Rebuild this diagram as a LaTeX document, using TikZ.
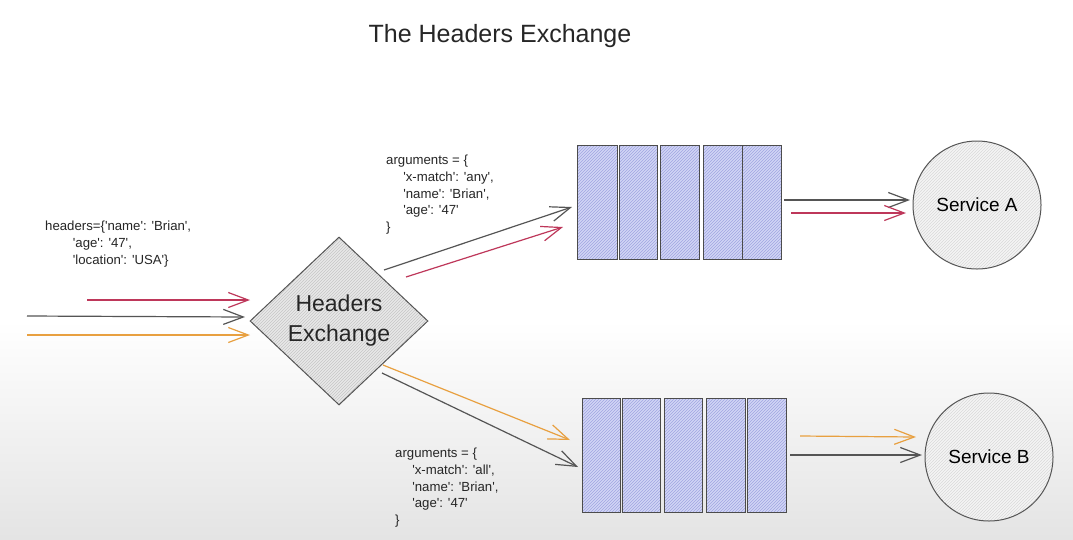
\documentclass[tikz,border=0pt]{standalone}
\usepackage{fontspec}
\setmainfont{Liberation Sans}
\usetikzlibrary{shapes.geometric,arrows.meta,patterns}
\newcommand{\sq}{\textquotesingle}
\definecolor{cred}{RGB}{190,55,90}
\definecolor{cgray}{RGB}{85,85,85}
\definecolor{corange}{RGB}{232,160,64}
\definecolor{qfill}{RGB}{210,213,245}
\definecolor{qline}{RGB}{160,165,225}
\definecolor{bggray}{RGB}{228,228,228}
\begin{document}
\begin{tikzpicture}[x=1pt,y=-1pt,
  arr/.style={line width=1.2pt,-{Straight Barb[length=20pt,width=15pt,line width=1.2pt]}},
  qbox/.style={draw=cgray!90!black,line width=1pt,preaction={fill=qfill},pattern=north east lines,pattern color=qline,minimum height=114pt,inner sep=0pt},
  code/.style={align=left,anchor=north west,font=\fontsize{13.2}{16.7}\selectfont,text=black!85,inner sep=0pt},
  svc/.style={circle,draw=cgray,line width=1pt,preaction={fill=gray!8},pattern=north east lines,pattern color=gray!30,minimum size=128pt,inner sep=0pt,font=\fontsize{19}{22}\selectfont}]
\useasboundingbox (0,0) rectangle (1073,539);
\fill[white] (0,0) rectangle (1073,320);
\shade[top color=white,bottom color=bggray] (0,320) rectangle (1073,539);

\node[font=\fontsize{25}{30}\selectfont,text=black!85] (title) at (500,36) {The Headers Exchange};

\node[code] (hdr) at (45,221) {headers=\{\sq name\sq: \sq Brian\sq,\\\hspace{2.1em}\sq age\sq: \sq 47\sq,\\\hspace{2.1em}\sq location\sq: \sq USA\sq\}};

\node[code] (argA) at (386,155) {arguments = \{\\\hspace{1.3em}\sq x-match\sq: \sq any\sq,\\\hspace{1.3em}\sq name\sq: \sq Brian\sq,\\\hspace{1.3em}\sq age\sq: \sq 47\sq\\\}};
\node[code] (argB) at (395,448) {arguments = \{\\\hspace{1.3em}\sq x-match\sq: \sq all\sq,\\\hspace{1.3em}\sq name\sq: \sq Brian\sq,\\\hspace{1.3em}\sq age\sq: \sq 47\sq\\\}};

\node[diamond,draw=cgray,line width=1pt,preaction={fill=gray!18},pattern=north east lines,pattern color=gray!45,minimum width=178pt,minimum height=168pt,inner sep=0pt] (ex) at (339,321) {};
\node[align=center,font=\fontsize{23}{30}\selectfont,text=black!85] (exlabel) at (ex.center) {Headers\\Exchange};

% upper queue
\node[qbox,minimum width=40pt] (qa1) at (597,202) {};
\node[qbox,minimum width=38pt] (qa2) at (638,202) {};
\node[qbox,minimum width=39pt] (qa3) at (679.5,202) {};
\node[qbox,minimum width=39pt] (qa4) at (722.5,202) {};
\node[qbox,minimum width=39pt] (qa5) at (761.5,202) {};
% lower queue
\node[qbox,minimum width=38pt] (qb1) at (601,455) {};
\node[qbox,minimum width=38pt] (qb2) at (641,455) {};
\node[qbox,minimum width=38pt] (qb3) at (683,455) {};
\node[qbox,minimum width=39pt] (qb4) at (725.5,455) {};
\node[qbox,minimum width=39pt] (qb5) at (766.5,455) {};

\node[svc] (sa) at (977,205) {Service A};
\node[svc] (sb) at (989,457) {Service B};

% coordinates for free ends
\coordinate (inR) at (87,300);
\coordinate (inG) at (27,316);
\coordinate (inO) at (27,335);
\coordinate (exR) at (250,300);
\coordinate (exG) at (245,317);
\coordinate (exO) at (250,335);
\coordinate (dGa) at (384,270);
\coordinate (dRa) at (406,277);
\coordinate (dOb) at (383,365);
\coordinate (dGb) at (382,373);
\coordinate (qGa) at (572,207);
\coordinate (qRa) at (563,227);
\coordinate (qOb) at (570,440);
\coordinate (qGb) at (578,467);
\coordinate (aG) at (784,200);
\coordinate (aR) at (791,213);
\coordinate (bO) at (800,436);
\coordinate (bG) at (790,455);
\coordinate (saG) at (910,200);
\coordinate (saR) at (906,213);
\coordinate (sbO) at (916,437);
\coordinate (sbG) at (922,455);

\draw[arr,cred] (inR) -- (exR);
\draw[arr,cgray] (inG) -- (exG);
\draw[arr,corange] (inO) -- (exO);
\draw[arr,cgray] (dGa) -- (qGa);
\draw[arr,cred] (dRa) -- (qRa);
\draw[arr,corange] (dOb) -- (qOb);
\draw[arr,cgray] (dGb) -- (qGb);
\draw[arr,cgray] (aG) -- (saG);
\draw[arr,cred] (aR) -- (saR);
\draw[arr,corange] (bO) -- (sbO);
\draw[arr,cgray] (bG) -- (sbG);
\end{tikzpicture}
\end{document}
